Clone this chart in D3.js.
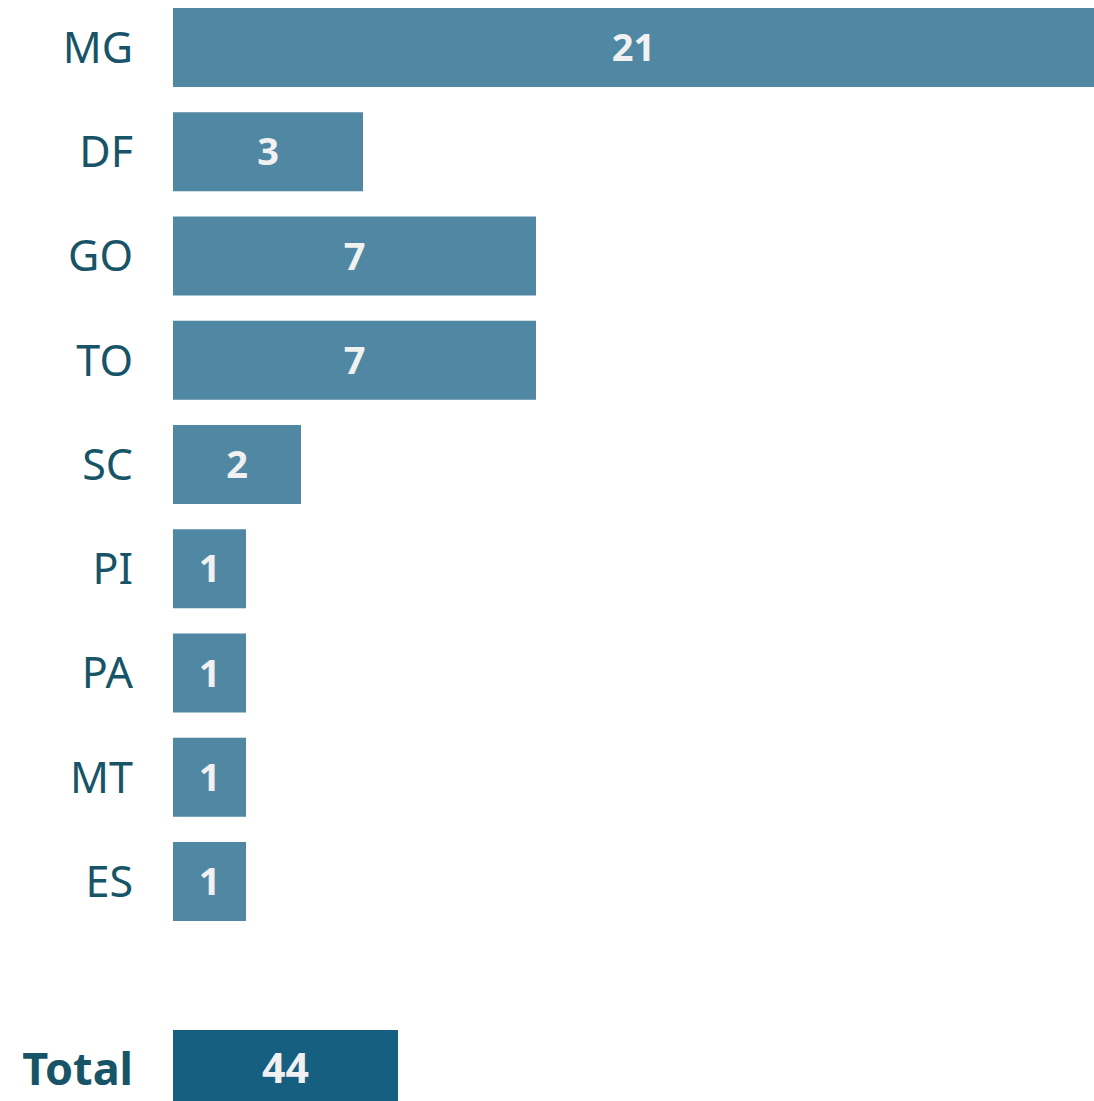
<!DOCTYPE html>
<html>
<head>
<meta charset="utf-8">
<script src="https://cdn.jsdelivr.net/npm/d3@7"></script>
<style>
	body { margin: 0; background: #fff; }
	.label { font-family: "Noto Sans", sans-serif; fill: #175468; }
	.value { font-family: "Noto Sans", sans-serif; font-weight: bold; fill: #f1f1f1; }
</style>
</head>
<body>
<script>
(function(){

	//data
	var states = ["MG", "DF", "GO", "TO", "SC", "PI", "PA", "MT", "ES"];
	var counts = [21, 3, 7, 7, 2, 1, 1, 1, 1];
	var totalLabel = ["Total"];
	var totalCount = [44];

	//frame
	var width = 1094,
		height = 1101,
		barLeft = 173,
		labelRight = 133;

	var svg = d3.select("body")
		.append("svg")
		.attr("width", width)
		.attr("height", height);

	//bar lengths in the source are not proportional, so use a piecewise scale
	var xScale = d3.scaleLinear()
		.domain([0, 1, 2, 3, 7, 21])
		.range([0, 73, 128, 190, 363, 921]);

	//total bar drawn on its own scale
	var xTotal = d3.scaleLinear()
		.domain([0, 44])
		.range([0, 225]);

	var yScale = d3.scaleBand()
		.domain(states)
		.range([8, 921])
		.paddingInner(0.242)
		.paddingOuter(0);

	var yTotal = d3.scaleBand()
		.domain(totalLabel)
		.range([1030, 1109]);

	var rows = states.map(function(s, i){ return {name: s, value: counts[i]}; });
	var totalRows = totalLabel.map(function(s, i){ return {name: s, value: totalCount[i]}; });

	//state bars
	var bars = svg.selectAll(".bar")
		.data(rows)
		.enter()
		.append("rect")
		.attr("class", "bar")
		.attr("x", barLeft)
		.attr("y", function(d){ return yScale(d.name); })
		.attr("width", function(d){ return xScale(d.value); })
		.attr("height", yScale.bandwidth())
		.style("fill", "#5088a3");

	svg.selectAll(".label.state")
		.data(rows)
		.enter()
		.append("text")
		.attr("class", "label state")
		.attr("x", labelRight)
		.attr("y", function(d){ return yScale(d.name) + yScale.bandwidth() / 2; })
		.attr("dy", "0.36em")
		.attr("text-anchor", "end")
		.style("font-size", "43px")
		.text(function(d){ return d.name; });

	svg.selectAll(".value.state")
		.data(rows)
		.enter()
		.append("text")
		.attr("class", "value state")
		.attr("x", function(d){ return barLeft + Math.min(xScale(d.value), width - barLeft) / 2; })
		.attr("y", function(d){ return yScale(d.name) + yScale.bandwidth() / 2; })
		.attr("dy", "0.36em")
		.attr("text-anchor", "middle")
		.style("font-size", "38px")
		.text(function(d){ return d.value; });

	//total row
	svg.selectAll(".totalBar")
		.data(totalRows)
		.enter()
		.append("rect")
		.attr("class", "totalBar")
		.attr("x", barLeft)
		.attr("y", function(d){ return yTotal(d.name); })
		.attr("width", function(d){ return xTotal(d.value); })
		.attr("height", yTotal.bandwidth())
		.style("fill", "#175f80");

	svg.selectAll(".label.total")
		.data(totalRows)
		.enter()
		.append("text")
		.attr("class", "label total")
		.attr("x", labelRight)
		.attr("y", 1069)
		.attr("dy", "0.36em")
		.attr("text-anchor", "end")
		.style("font-size", "45px")
		.style("font-weight", "bold")
		.text(function(d){ return d.name; });

	svg.selectAll(".value.total")
		.data(totalRows)
		.enter()
		.append("text")
		.attr("class", "value total")
		.attr("x", function(d){ return barLeft + xTotal(d.value) / 2; })
		.attr("y", 1068)
		.attr("dy", "0.36em")
		.attr("text-anchor", "middle")
		.style("font-size", "41px")
		.text(function(d){ return d.value; });

})();
</script>
</body>
</html>
